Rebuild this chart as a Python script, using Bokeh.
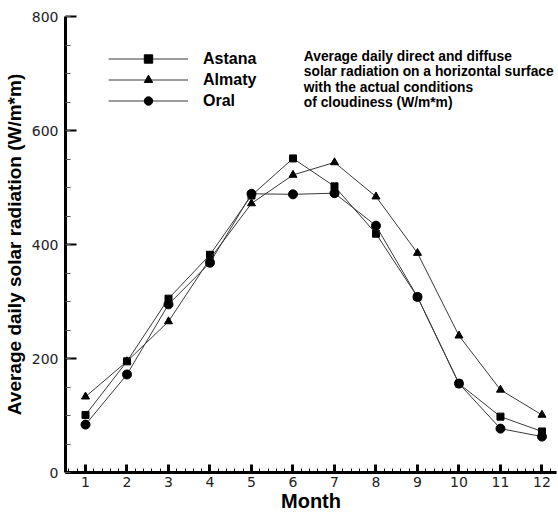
from bokeh.plotting import figure
from bokeh.models import (Range1d, SingleIntervalTicker, Label, Legend, LegendItem)
from bokeh.embed import file_html
from bokeh.resources import INLINE

months = [1, 2, 3, 4, 5, 6, 7, 8, 9, 10, 11, 12]
astana = [101, 195, 305, 382, 486, 551, 502, 419, 308, 156, 98, 72]
almaty = [133, 195, 265, 375, 472, 522, 544, 484, 385, 240, 145, 101]
oral = [84, 172, 295, 368, 489, 488, 490, 433, 308, 156, 77, 63]

series_names = ["Astana", "Almaty", "Oral"]
y_title = "Average daily solar radiation (W/m*m)"
x_title = "Month"
note = ("Average daily direct and diffuse\n"
        "solar radiation on a horizontal surface\n"
        "with the actual conditions\n"
        "of cloudiness (W/m*m)")

FONT = "Liberation Sans"

p = figure(width=558, height=515, output_backend="svg", toolbar_location=None,
           x_range=Range1d(0.518, 12.35), y_range=Range1d(0, 800),
           min_border_left=65, min_border_right=2, min_border_top=16,
           min_border_bottom=43)
p.outline_line_color = None
p.xgrid.visible = False
p.ygrid.visible = False
p.background_fill_color = "white"
p.border_fill_color = "white"

line_color = "#3a3a3a"
r1l = p.line(months, astana, line_color=line_color, line_width=1)
r1m = p.scatter(months, astana, marker="square", size=7, fill_color="black", line_color="black")
r2l = p.line(months, almaty, line_color=line_color, line_width=1)
r2m = p.scatter(months, almaty, marker="triangle", size=8, fill_color="black", line_color="black")
r3l = p.line(months, oral, line_color=line_color, line_width=1)
r3m = p.scatter(months, oral, marker="circle", size=9, fill_color="black", line_color="black")

legend = Legend(items=[
    LegendItem(label=series_names[0], renderers=[r1l, r1m]),
    LegendItem(label=series_names[1], renderers=[r2l, r2m]),
    LegendItem(label=series_names[2], renderers=[r3l, r3m]),
], location=(43, 361), glyph_width=80, glyph_height=21, label_height=21,
    spacing=0, padding=0, margin=0, label_standoff=15,
    border_line_color=None, background_fill_alpha=0,
    label_text_font=FONT, label_text_font_style="bold", label_text_font_size="16px",
    label_text_color="black")
p.add_layout(legend, "center")

# axes
xa = p.xaxis[0]
xa.ticker = SingleIntervalTicker(interval=1, num_minor_ticks=5)
xa.axis_line_width = 3
xa.axis_line_color = "black"
xa.major_tick_in = 8
xa.major_tick_out = 0
xa.major_tick_line_width = 3
xa.minor_tick_in = 4
xa.minor_tick_out = 0
xa.minor_tick_line_width = 1
xa.major_label_text_font = "DejaVu Sans"
xa.major_label_text_font_size = "14px"
xa.major_label_text_color = "#222222"
xa.major_label_standoff = 4
xa.axis_label = x_title
xa.axis_label_text_font = FONT
xa.axis_label_text_font_style = "bold"
xa.axis_label_text_font_size = "20px"
xa.axis_label_text_color = "black"
xa.axis_label_standoff = 0

ya = p.yaxis[0]
ya.ticker = SingleIntervalTicker(interval=200, num_minor_ticks=4)
ya.axis_line_width = 3
ya.axis_line_color = "black"
ya.major_tick_in = 11
ya.major_tick_out = 0
ya.major_tick_line_width = 2
ya.minor_tick_in = 5
ya.minor_tick_out = 0
ya.minor_tick_line_width = 1
ya.minor_tick_line_color = "#555555"
ya.major_label_text_font = "DejaVu Sans"
ya.major_label_text_font_size = "14px"
ya.major_label_text_color = "#222222"
ya.major_label_standoff = 7
ya.major_label_orientation = "horizontal"
ya.axis_label = y_title
ya.axis_label_text_font = FONT
ya.axis_label_text_font_style = "bold"
ya.axis_label_text_font_size = "19px"
ya.axis_label_text_color = "black"
ya.axis_label_standoff = 4

p.add_layout(Label(x=6.26, y=743, text=note, text_align="left", text_baseline="top",
                   text_font=FONT, text_font_style="bold",
                   text_font_size="13.8px", text_color="black", text_line_height=1.02))

open("out.html", "w").write(file_html(p, INLINE))
